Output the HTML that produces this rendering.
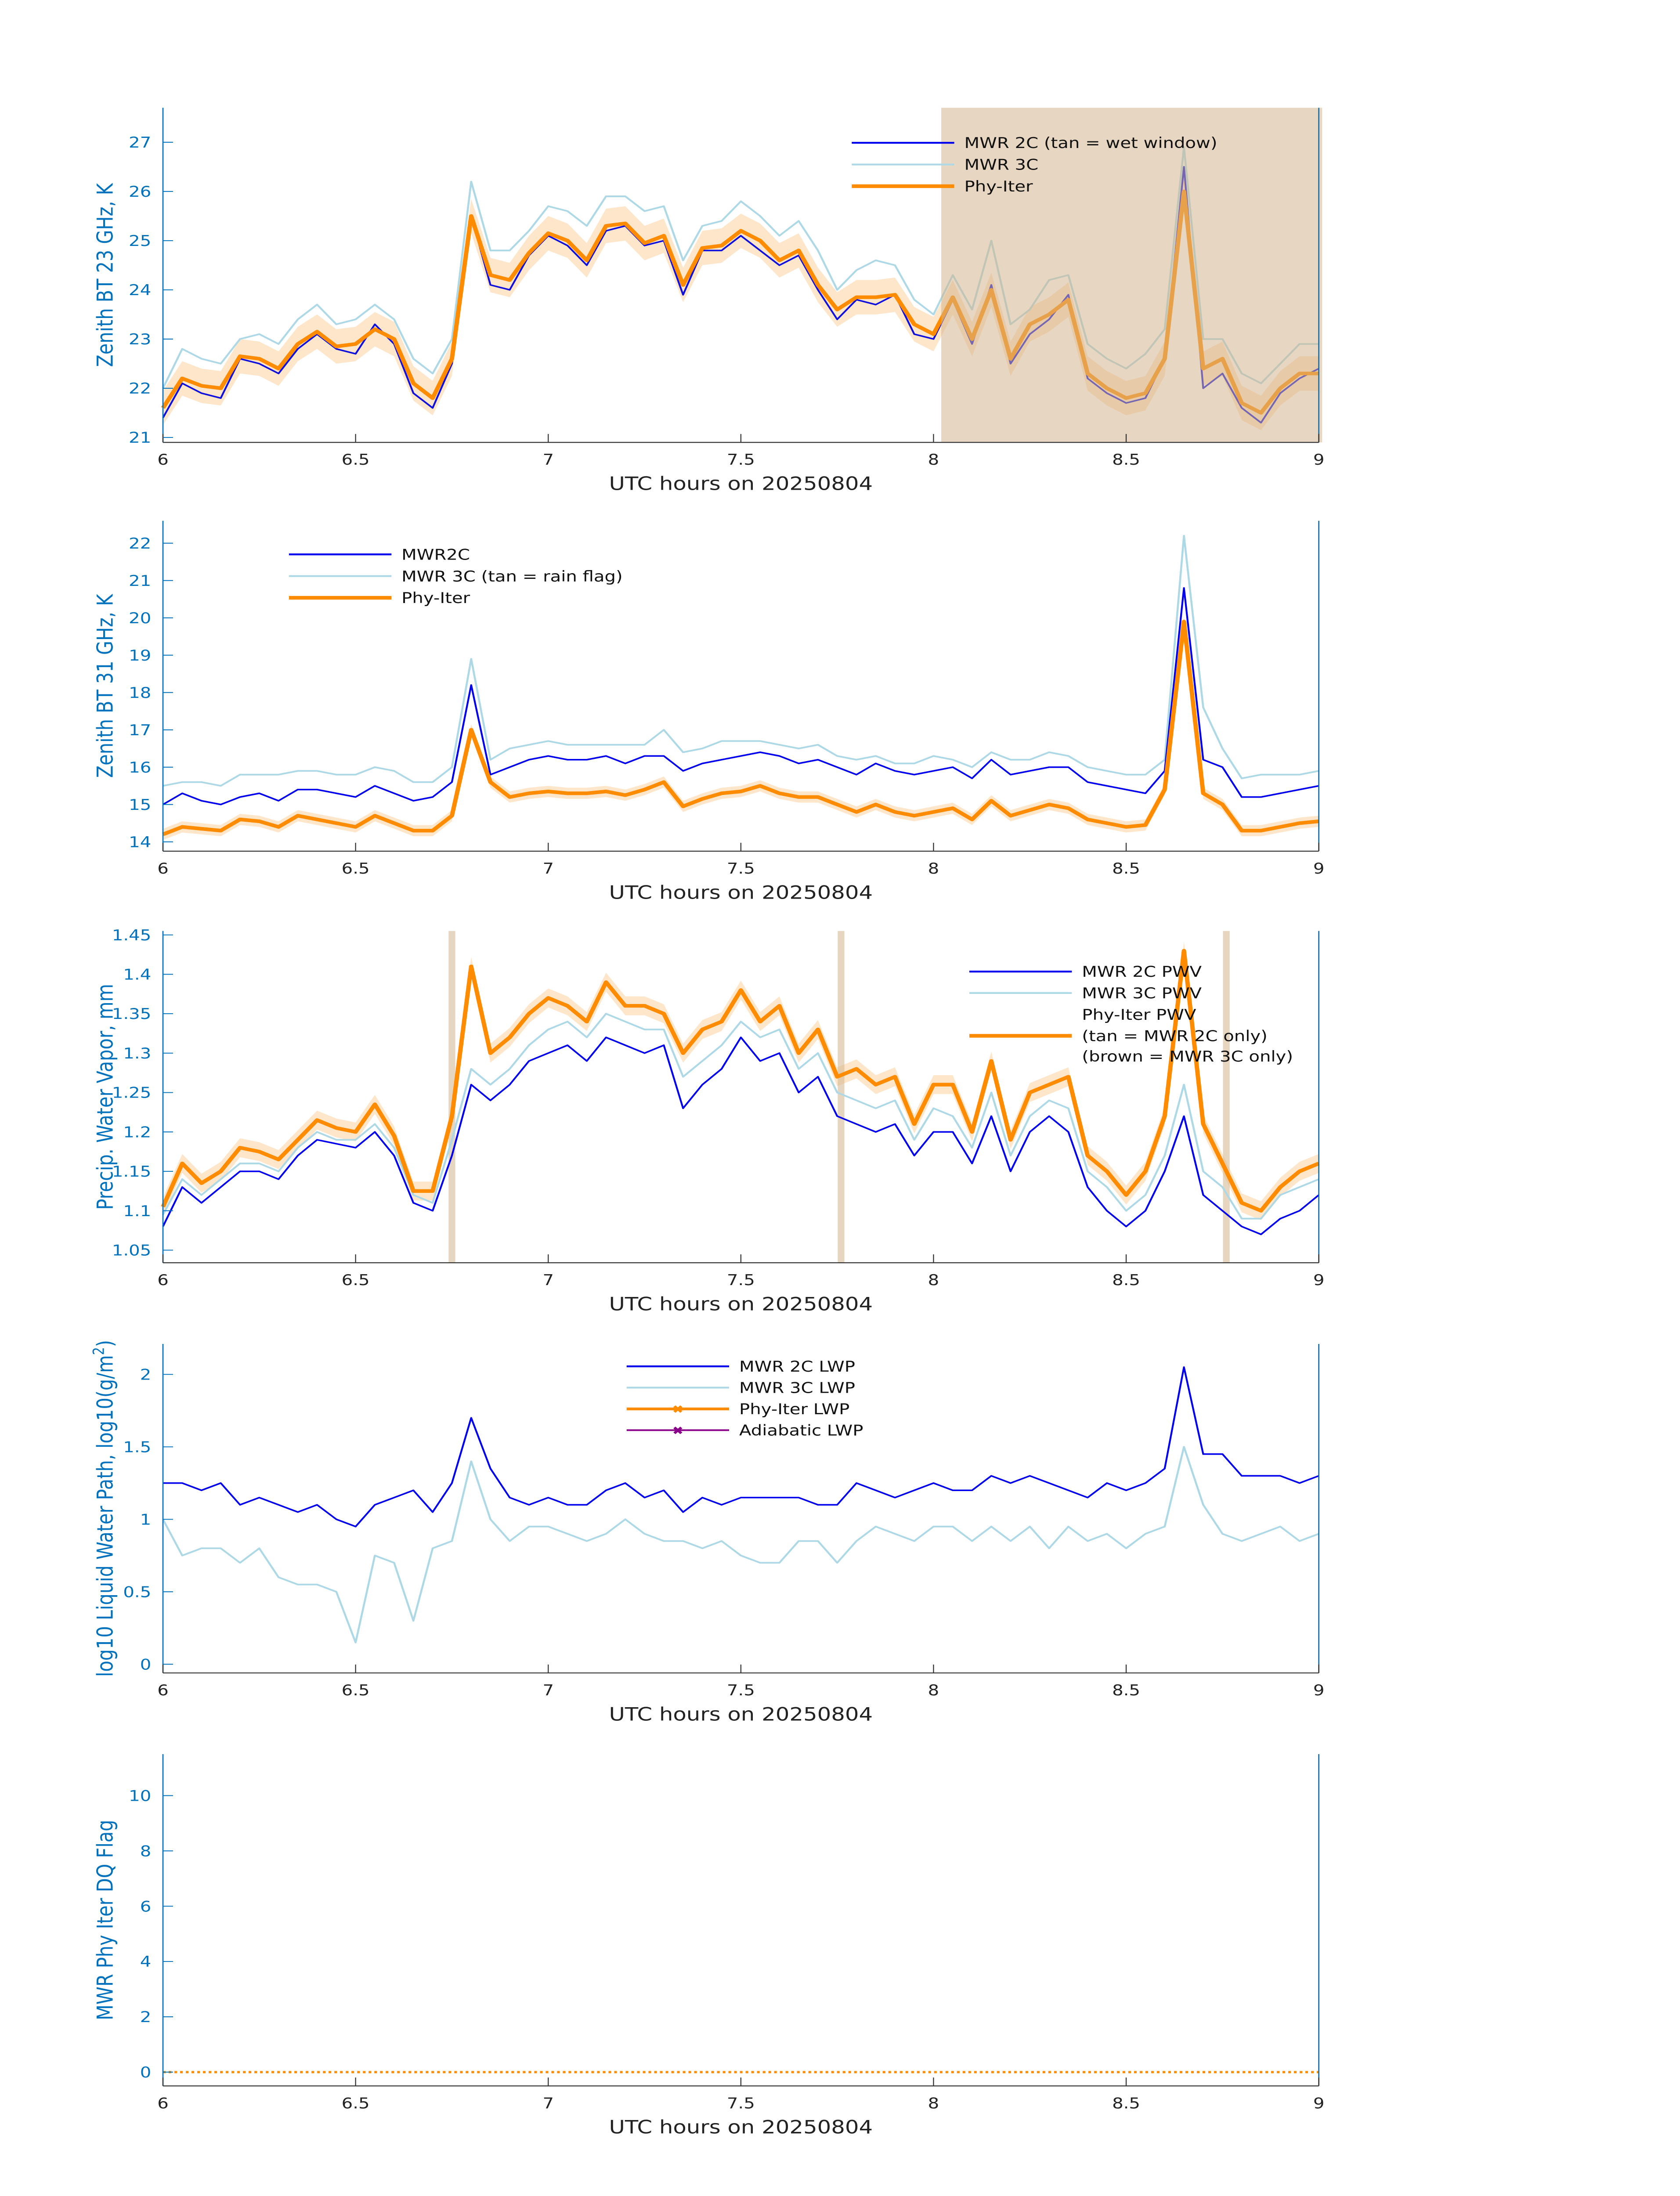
<!DOCTYPE html>
<html><head><meta charset="utf-8">
<style>
html,body{margin:0;padding:0;background:#fff;width:100%;height:100%;overflow:hidden;}
svg{display:block;width:100vw;height:100vh;}
text{font-family:"DejaVu Sans","Liberation Sans",sans-serif;}
</style></head>
<body>
<svg id="fig" xmlns="http://www.w3.org/2000/svg" viewBox="0 0 1000 1568.63" preserveAspectRatio="none"></svg>
<script>
const times = [];
for (let i = 0; i <= 60; i++) times.push(6 + i * 0.05);

const bt23_2c = [21.4,22.1,21.9,21.8,22.6,22.5,22.3,22.8,23.1,22.8,22.7,23.3,22.9,21.9,21.6,22.5,25.5,24.1,24.0,24.7,25.1,24.9,24.5,25.2,25.3,24.9,25.0,23.9,24.8,24.8,25.1,24.8,24.5,24.7,24.0,23.4,23.8,23.7,23.9,23.1,23.0,23.8,22.9,24.1,22.5,23.1,23.4,23.9,22.2,21.9,21.7,21.8,22.6,26.5,22.0,22.3,21.6,21.3,21.9,22.2,22.4];
const bt23_3c = [22.0,22.8,22.6,22.5,23.0,23.1,22.9,23.4,23.7,23.3,23.4,23.7,23.4,22.6,22.3,23.0,26.2,24.8,24.8,25.2,25.7,25.6,25.3,25.9,25.9,25.6,25.7,24.6,25.3,25.4,25.8,25.5,25.1,25.4,24.8,24.0,24.4,24.6,24.5,23.8,23.5,24.3,23.6,25.0,23.3,23.6,24.2,24.3,22.9,22.6,22.4,22.7,23.2,26.9,23.0,23.0,22.3,22.1,22.5,22.9,22.9];
const bt23_phy = [21.6,22.2,22.05,22.0,22.65,22.6,22.4,22.9,23.15,22.85,22.9,23.2,23.0,22.1,21.8,22.6,25.5,24.3,24.2,24.75,25.15,25.0,24.6,25.3,25.35,24.95,25.1,24.1,24.85,24.9,25.2,25.0,24.6,24.8,24.1,23.6,23.85,23.85,23.9,23.3,23.1,23.85,23.0,24.0,22.6,23.3,23.5,23.8,22.3,22.0,21.8,21.9,22.6,26.0,22.4,22.6,21.7,21.5,22.0,22.3,22.3];
const bt23_sigma = 0.35;
const bt23_ticks = [21,22,23,24,25,26,27];

const bt31_2c = [15.0,15.3,15.1,15.0,15.2,15.3,15.1,15.4,15.4,15.3,15.2,15.5,15.3,15.1,15.2,15.6,18.2,15.8,16.0,16.2,16.3,16.2,16.2,16.3,16.1,16.3,16.3,15.9,16.1,16.2,16.3,16.4,16.3,16.1,16.2,16.0,15.8,16.1,15.9,15.8,15.9,16.0,15.7,16.2,15.8,15.9,16.0,16.0,15.6,15.5,15.4,15.3,15.9,20.8,16.2,16.0,15.2,15.2,15.3,15.4,15.5];
const bt31_3c = [15.5,15.6,15.6,15.5,15.8,15.8,15.8,15.9,15.9,15.8,15.8,16.0,15.9,15.6,15.6,16.0,18.9,16.2,16.5,16.6,16.7,16.6,16.6,16.6,16.6,16.6,17.0,16.4,16.5,16.7,16.7,16.7,16.6,16.5,16.6,16.3,16.2,16.3,16.1,16.1,16.3,16.2,16.0,16.4,16.2,16.2,16.4,16.3,16.0,15.9,15.8,15.8,16.2,22.2,17.6,16.5,15.7,15.8,15.8,15.8,15.9];
const bt31_phy = [14.2,14.4,14.35,14.3,14.6,14.55,14.4,14.7,14.6,14.5,14.4,14.7,14.5,14.3,14.3,14.7,17.0,15.6,15.2,15.3,15.35,15.3,15.3,15.35,15.25,15.4,15.6,14.95,15.15,15.3,15.35,15.5,15.3,15.2,15.2,15.0,14.8,15.0,14.8,14.7,14.8,14.9,14.6,15.1,14.7,14.85,15.0,14.9,14.6,14.5,14.4,14.45,15.4,19.9,15.3,15.0,14.3,14.3,14.4,14.5,14.55];
const bt31_sigma = 0.15;
const bt31_ticks = [14,15,16,17,18,19,20,21,22];

const pwv_2c = [1.08,1.13,1.11,1.13,1.15,1.15,1.14,1.17,1.19,1.185,1.18,1.20,1.17,1.11,1.10,1.17,1.26,1.24,1.26,1.29,1.30,1.31,1.29,1.32,1.31,1.30,1.31,1.23,1.26,1.28,1.32,1.29,1.30,1.25,1.27,1.22,1.21,1.20,1.21,1.17,1.20,1.20,1.16,1.22,1.15,1.20,1.22,1.20,1.13,1.10,1.08,1.10,1.15,1.22,1.12,1.10,1.08,1.07,1.09,1.10,1.12];
const pwv_3c = [1.095,1.14,1.12,1.14,1.16,1.16,1.15,1.18,1.20,1.19,1.19,1.21,1.18,1.12,1.11,1.19,1.28,1.26,1.28,1.31,1.33,1.34,1.32,1.35,1.34,1.33,1.33,1.27,1.29,1.31,1.34,1.32,1.33,1.28,1.30,1.25,1.24,1.23,1.24,1.19,1.23,1.22,1.18,1.25,1.17,1.22,1.24,1.23,1.15,1.13,1.10,1.12,1.17,1.26,1.15,1.13,1.09,1.09,1.12,1.13,1.14];
const pwv_phy = [1.105,1.16,1.135,1.15,1.18,1.175,1.165,1.19,1.215,1.205,1.20,1.235,1.195,1.125,1.125,1.22,1.41,1.30,1.32,1.35,1.37,1.36,1.34,1.39,1.36,1.36,1.35,1.30,1.33,1.34,1.38,1.34,1.36,1.30,1.33,1.27,1.28,1.26,1.27,1.21,1.26,1.26,1.20,1.29,1.19,1.25,1.26,1.27,1.17,1.15,1.12,1.15,1.22,1.43,1.21,1.16,1.11,1.10,1.13,1.15,1.16];
const pwv_sigma = 0.012;
const pwv_flagTimes = [6.75,7.76,8.76];
const pwv_ticks = [1.05,1.1,1.15,1.2,1.25,1.3,1.35,1.4,1.45];

const lwp_2c = [1.25,1.25,1.2,1.25,1.1,1.15,1.1,1.05,1.1,1.0,0.95,1.1,1.15,1.2,1.05,1.25,1.7,1.35,1.15,1.1,1.15,1.1,1.1,1.2,1.25,1.15,1.2,1.05,1.15,1.1,1.15,1.15,1.15,1.15,1.1,1.1,1.25,1.2,1.15,1.2,1.25,1.2,1.2,1.3,1.25,1.3,1.25,1.2,1.15,1.25,1.2,1.25,1.35,2.05,1.45,1.45,1.3,1.3,1.3,1.25,1.3];
const lwp_3c = [1.0,0.75,0.8,0.8,0.7,0.8,0.6,0.55,0.55,0.5,0.15,0.75,0.7,0.3,0.8,0.85,1.4,1.0,0.85,0.95,0.95,0.9,0.85,0.9,1.0,0.9,0.85,0.85,0.8,0.85,0.75,0.7,0.7,0.85,0.85,0.7,0.85,0.95,0.9,0.85,0.95,0.95,0.85,0.95,0.85,0.95,0.8,0.95,0.85,0.9,0.8,0.9,0.95,1.5,1.1,0.9,0.85,0.9,0.95,0.85,0.9];
const lwp_ticks = [0,0.5,1,1.5,2];

const dq_flag = [];
for (let i = 0; i <= 60; i++) dq_flag.push(0);
const dq_ticks = [0,2,4,6,8,10];

const xTicks = [6,6.5,7,7.5,8,8.5,9];
const xTickLabels = ["6","6.5","7","7.5","8","8.5","9"];

const NS = "http://www.w3.org/2000/svg";
const svg = document.getElementById("fig");
function mk(tag, attrs, parent) {
  const e = document.createElementNS(NS, tag);
  for (const k in attrs) e.setAttribute(k, attrs[k]);
  (parent || svg).appendChild(e);
  return e;
}
const X0 = 97, X1 = 785;
function xs(t) { return X0 + (t - 6) / 3 * (X1 - X0); }
function makeY(top, bot, vmin, vmax) { return v => bot - (v - vmin) / (vmax - vmin) * (bot - top); }
function linePath(tt, vv, y) { return tt.map((t, i) => (i ? "L" : "M") + xs(t).toFixed(2) + " " + y(vv[i]).toFixed(2)).join(" "); }
function bandPath(tt, vv, s, y) {
  let d = tt.map((t, i) => (i ? "L" : "M") + xs(t).toFixed(2) + " " + y(vv[i] + s).toFixed(2)).join(" ");
  for (let i = tt.length - 1; i >= 0; i--) d += " L" + xs(tt[i]).toFixed(2) + " " + y(vv[i] - s).toFixed(2);
  return d + " Z";
}
const AX = "#0072bd";

function axes(g, top, bot, y, yticks, ylabelText, tag, fmt) {
  let e = mk("line", {x1: X0, y1: bot, x2: X1, y2: bot, stroke: "#333", "stroke-width": 0.7}, g);
  
  
  e = mk("line", {x1: X0, y1: top, x2: X0, y2: bot, stroke: AX, "stroke-width": 0.7}, g);
  
  
  e = mk("line", {x1: X1, y1: top, x2: X1, y2: bot, stroke: AX, "stroke-width": 0.7}, g);
  
  
  xTicks.forEach((t, i) => {
    mk("line", {x1: xs(t), y1: bot, x2: xs(t), y2: bot - 6, stroke: "#333", "stroke-width": 0.6}, g);
    const tx = mk("text", {x: xs(t), y: bot + 16, "font-size": 10.5, "text-anchor": "middle", fill: "#222"}, g);
    tx.textContent = xTickLabels[i];
    
    
  });
  yticks.forEach(v => {
    mk("line", {x1: X0, y1: y(v), x2: X0 + 6, y2: y(v), stroke: AX, "stroke-width": 0.6}, g);
    const tx = mk("text", {x: X0 - 7, y: y(v) + 3.8, "font-size": 10.5, "text-anchor": "end", fill: AX}, g);
    tx.textContent = fmt ? fmt(v) : String(v);
    
    
  });
  const xl = mk("text", {x: 441, y: bot + 34, "font-size": 13, "text-anchor": "middle", fill: "#222"}, g);
  xl.textContent = "UTC hours on 20250804";
  
  
  const yl = mk("text", {x: 0, y: 0, "font-size": 13, "text-anchor": "middle", fill: AX, transform: "translate(" + 67 + "," + ((top + bot) / 2) + ") rotate(-90)"}, g);
  yl.innerHTML = ylabelText;
  
  
}
function series(g, vv, y, color, w, name) {
  const p = mk("path", {d: linePath(times, vv, y), fill: "none", stroke: color, "stroke-width": w, "stroke-linejoin": "round"}, g);
  
  
}
function band(g, vv, s, y, name) {
  const p = mk("path", {d: bandPath(times, vv, s, y), fill: "#fddcb5", opacity: 0.7}, g);
  
  
}
function legend(g, x, yy, items, tag) {
  items.forEach(it => {
    if (it.color) {
      const l = mk("line", {x1: x, y1: yy + it.dy, x2: x + 61, y2: yy + it.dy, stroke: it.color, "stroke-width": it.w}, g);
      
      
      if (it.marker) {
        const m = mk("text", {x: x + 30.5, y: yy + it.dy + 3, "font-size": 8, "text-anchor": "middle", fill: it.color, "font-weight": "bold"}, g);
        m.textContent = "✖";
        
        
      }
    }
    const t = mk("text", {x: x + 67, y: yy + it.dy + 3.8, "font-size": 10.5, fill: "#111"}, g);
    t.textContent = it.text;
    
    
  });
}

// Panel 1
(function(){
  const g = mk("g", {});  
  const top = 77, bot = 316, y = makeY(top, bot, 20.9, 27.7);
  band(g, bt23_phy, bt23_sigma, y, 'bt23-phy-iter-uncertainty');
  series(g, bt23_3c, y, "#add8e6", 1.2, 'bt23-mwr3c-line');
  series(g, bt23_2c, y, "#1010dd", 1.1, 'bt23-mwr2c-line');
  series(g, bt23_phy, y, "#ff8c00", 2.6, 'bt23-phy-iter-line');
  const r = mk("rect", {x: xs(8.02), y: top, width: xs(9.0) - xs(8.02) + 2, height: bot - top, fill: "#d2b48c", opacity: 0.53}, g);
  
  
  axes(g, top, bot, y, bt23_ticks, "Zenith BT 23 GHz, K", 'bt23');
  legend(g, 507, 102, [{dy:0,color:"#0000ee",w:1.3,text:"MWR 2C (tan = wet window)"},{dy:15.5,color:"#add8e6",w:1.3,text:"MWR 3C"},{dy:31,color:"#ff8c00",w:2.6,text:"Phy-Iter"}], 'bt23');
})();

// Panel 2
(function(){
  const g = mk("g", {});  
  const top = 372, bot = 608, y = makeY(top, bot, 13.75, 22.6);
  band(g, bt31_phy, bt31_sigma, y, 'bt31-phy-iter-uncertainty');
  series(g, bt31_3c, y, "#add8e6", 1.2, 'bt31-mwr3c-line');
  series(g, bt31_2c, y, "#0000ee", 1.1, 'bt31-mwr2c-line');
  series(g, bt31_phy, y, "#ff8c00", 2.6, 'bt31-phy-iter-line');
  axes(g, top, bot, y, bt31_ticks, "Zenith BT 31 GHz, K", 'bt31');
  legend(g, 172, 396, [{dy:0,color:"#0000ee",w:1.3,text:"MWR2C"},{dy:15.5,color:"#add8e6",w:1.3,text:"MWR 3C (tan = rain flag)"},{dy:31,color:"#ff8c00",w:2.6,text:"Phy-Iter"}], 'bt31');
})();

// Panel 3
(function(){
  const g = mk("g", {});  
  const top = 665, bot = 902, y = makeY(top, bot, 1.034, 1.455);
  band(g, pwv_phy, pwv_sigma, y, 'pwv-phy-iter-uncertainty');
  pwv_flagTimes.forEach(t => {
    const r = mk("rect", {x: xs(t) - 2, y: top, width: 4, height: bot - top, fill: "#d2b48c", opacity: 0.55}, g);
    
    
  });
  series(g, pwv_3c, y, "#add8e6", 1.2, 'pwv-mwr3c-line');
  series(g, pwv_2c, y, "#0000ee", 1.1, 'pwv-mwr2c-line');
  series(g, pwv_phy, y, "#ff8c00", 2.6, 'pwv-phy-iter-line');
  axes(g, top, bot, y, pwv_ticks, "Precip. Water Vapor, mm", 'pwv', v => String(v));
  legend(g, 577, 694, [{dy:0,color:"#0000ee",w:1.3,text:"MWR 2C PWV"},{dy:15.3,color:"#add8e6",w:1.3,text:"MWR 3C PWV"},{dy:30.6,text:"Phy-Iter PWV"},{dy:45.9,color:"#ff8c00",w:2.6,text:"(tan = MWR 2C only)"},{dy:60.5,text:"(brown = MWR 3C only)"}], 'pwv');
})();

// Panel 4
(function(){
  const g = mk("g", {});  
  const top = 960, bot = 1195, y = makeY(top, bot, -0.06, 2.21);
  series(g, lwp_3c, y, "#add8e6", 1.2, 'lwp-mwr3c-line');
  series(g, lwp_2c, y, "#0000ee", 1.1, 'lwp-mwr2c-line');
  axes(g, top, bot, y, lwp_ticks, "log10 Liquid Water Path, log10(g/m<tspan baseline-shift='super' font-size='9'>2</tspan>)", 'lwp');
  legend(g, 373, 976, [{dy:0,color:"#0000ee",w:1.3,text:"MWR 2C LWP"},{dy:15.2,color:"#add8e6",w:1.3,text:"MWR 3C LWP"},{dy:30.4,color:"#ff8c00",w:2,marker:true,text:"Phy-Iter LWP"},{dy:45.6,color:"#8b008b",w:1.2,marker:true,text:"Adiabatic LWP"}], 'lwp');
})();

// Panel 5
(function(){
  const g = mk("g", {});  
  const top = 1253, bot = 1490, y = makeY(top, bot, -0.5, 11.5);
  const p = mk("path", {d: linePath(times, dq_flag, y), fill: "none", stroke: "#ff8c00", "stroke-width": 1.6, "stroke-dasharray": "1.6 1.8"}, g);
  
  
  axes(g, top, bot, y, dq_ticks, "MWR Phy Iter DQ Flag", 'dq');
})();
</script>
</body></html>
